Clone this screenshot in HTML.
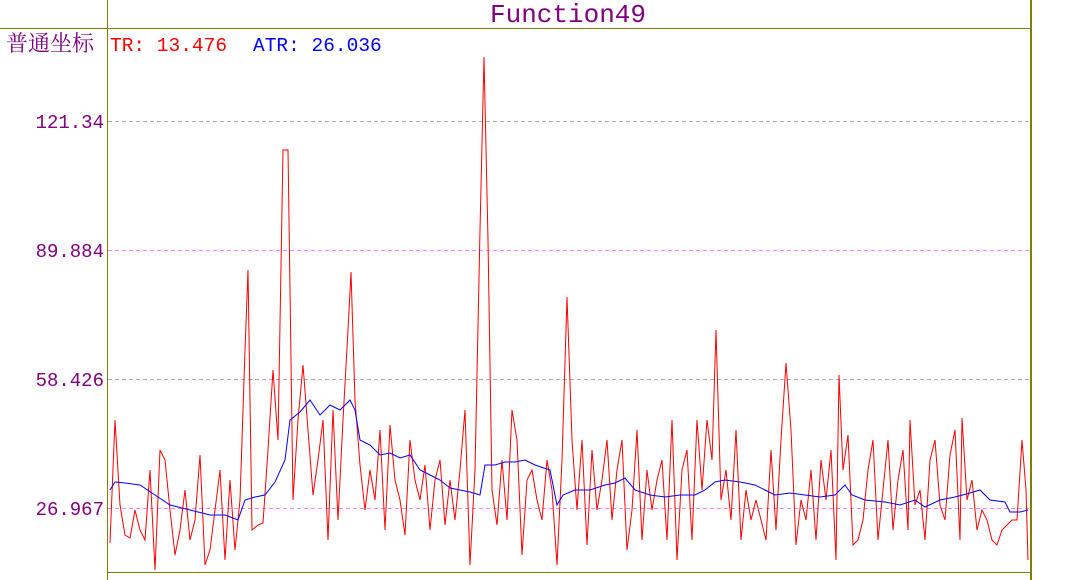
<!DOCTYPE html>
<html><head><meta charset="utf-8"><style>
html,body{margin:0;padding:0;background:#fff;width:1080px;height:580px;overflow:hidden}
</style></head><body>
<svg width="1080" height="580" xmlns="http://www.w3.org/2000/svg" style="display:block">
<rect width="1080" height="580" fill="#fff"/>
<g stroke-dasharray="4,3" stroke-width="1">
<line x1="108" y1="121.5" x2="1030" y2="121.5" stroke="#c0a0c0"/>
<line x1="108" y1="250.5" x2="1030" y2="250.5" stroke="#ff80ff"/>
<line x1="108" y1="379.5" x2="1030" y2="379.5" stroke="#c0a0c0"/>
<line x1="108" y1="508.5" x2="1030" y2="508.5" stroke="#ff80ff"/>
</g>
<line x1="0" y1="28.5" x2="1031" y2="28.5" stroke="#808000"/>
<line x1="107.5" y1="0" x2="107.5" y2="580" stroke="#808000"/>
<line x1="107" y1="572.5" x2="1031" y2="572.5" stroke="#808000"/>
<line x1="1031" y1="0" x2="1031" y2="580" stroke="#808000" stroke-width="2"/>
<text x="568" y="22" text-anchor="middle" font-family="Liberation Mono, monospace" font-size="26" fill="#800080">Function49</text>
<text x="6" y="51" font-family="Liberation Serif, Noto Serif CJK SC, serif" font-size="22" fill="#800080">普通坐标</text>
<text x="110" y="51" font-family="Liberation Mono, monospace" font-size="19.5" fill="#ff0000">TR: 13.476</text>
<text x="253" y="51" font-family="Liberation Mono, monospace" font-size="19.5" fill="#0000ff">ATR: 26.036</text>
<g font-family="Liberation Mono, monospace" font-size="19" fill="#800080" text-anchor="end">
<text x="104" y="128">121.34</text>
<text x="104" y="257">89.884</text>
<text x="104" y="386">58.426</text>
<text x="104" y="515">26.967</text>
</g>
<polyline fill="none" stroke="#ff0000" stroke-width="1" points="110,543 115,420 120,505 125,535 130,538 135,510 140,530 145,540 150,470 155,570 160,450 165,460 170,510 175,555 180,530 185,490 190,540 195,520 200,455 205,565 210,550 215,510 220,470 225,560 230,480 235,550 240,500 245,350 248,270 252,530 258,525 263,523 268,450 273,370 278,440 283,150 288,150 293,500 298,420 303,365 308,430 313,495 318,460 323,420 328,540 333,410 338,520 343,420 348,330 351,272 355,400 360,465 365,510 370,470 375,500 380,430 385,530 390,425 395,480 400,500 405,535 410,440 415,480 420,500 425,465 430,530 435,480 440,460 445,525 450,480 455,520 460,470 465,410 470,565 475,470 480,230 484,57 488,240 492,490 497,525 502,460 507,520 512,410 517,440 522,555 527,480 532,470 537,500 542,520 547,460 552,490 557,565 562,460 567,297 572,440 577,510 582,440 587,545 592,450 597,510 602,480 607,440 612,520 617,470 622,440 627,550 632,510 637,430 642,540 647,470 652,510 657,480 662,460 667,540 672,420 677,560 682,470 687,450 692,540 697,420 702,490 707,420 712,460 716,330 721,500 726,470 731,520 736,430 741,540 746,490 751,520 756,500 761,520 766,540 771,450 776,530 781,440 786,363 791,430 796,545 801,500 806,520 811,470 816,540 821,460 826,500 831,450 836,560 839,375 843,470 848,435 853,545 858,540 863,520 868,470 873,440 878,540 883,490 888,440 893,530 898,480 903,450 908,530 910,420 915,505 920,490 925,540 930,460 935,440 940,505 945,520 950,455 955,430 960,540 962,418 967,500 972,480 977,530 982,510 987,520 992,540 997,545 1002,530 1007,525 1012,520 1017,520 1022,440 1026,490 1028,560"/>
<polyline fill="none" stroke="#0000ff" stroke-width="1" points="110,490 115,482 125,483 140,485 155,495 170,505 190,510 210,515 225,515 238,520 245,500 255,497 265,495 275,482 285,460 290,420 300,412 310,400 320,415 330,405 340,410 350,400 355,410 360,440 370,445 380,455 390,453 400,458 410,455 420,470 430,475 440,480 450,488 460,490 470,492 480,495 485,465 495,465 505,462 515,462 525,460 535,465 550,470 557,505 563,495 575,490 590,490 605,485 615,483 625,478 635,490 650,495 665,497 680,495 695,495 705,490 715,482 725,480 740,482 755,485 765,490 775,495 790,493 805,495 820,497 835,495 845,485 852,495 865,500 885,502 900,505 915,500 925,507 940,500 955,497 970,493 980,490 990,500 1005,502 1010,512 1020,512 1028,510"/>
</svg>
</body></html>
